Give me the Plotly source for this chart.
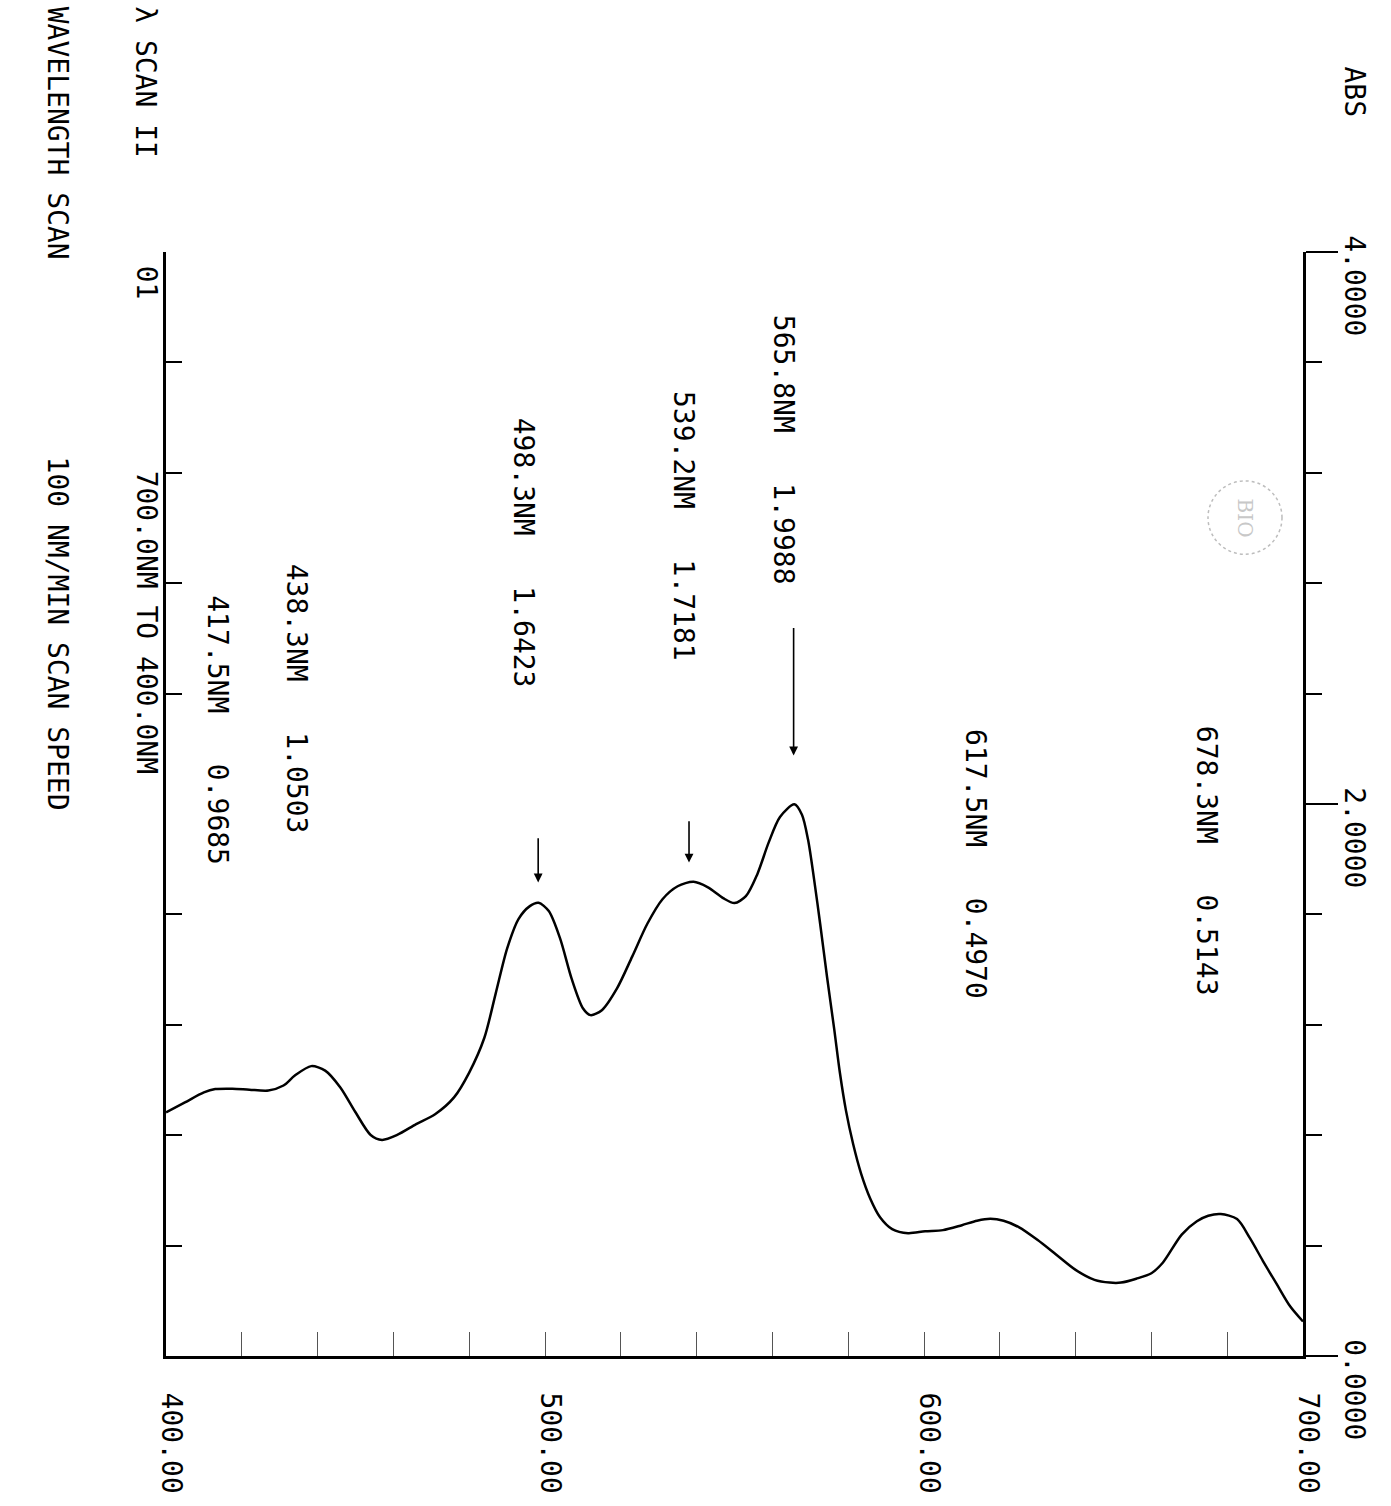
import plotly.graph_objects as go

# Absorbance scan, 700 nm down to 400 nm
wavelength_nm = [400, 405, 410, 413, 417.5, 422, 427, 431, 434, 438.3, 442, 446, 450,
                 454, 457, 461, 466, 471, 476, 480, 484, 487, 490, 493, 496, 498.3,
                 501, 504, 507, 510, 512, 515, 519, 523, 527, 531, 535, 539.2, 543,
                 547, 550, 553, 556, 559, 562, 565.8, 567.8, 569.4, 571.0, 572.6,
                 574.4, 576.3, 577.8, 579.4, 581.3, 583.4, 585.8, 588.4, 591.6, 595.8,
                 600.3, 605, 610, 614, 617.5, 621, 625, 630, 635, 640, 645, 649, 652,
                 656, 660, 663, 668, 672, 675, 678.3, 682.6, 686, 689.4, 693, 696.6, 700]
absorbance = [0.883, 0.919, 0.955, 0.967, 0.9685, 0.965, 0.962, 0.980, 1.016, 1.0503,
              1.034, 0.973, 0.883, 0.801, 0.783, 0.801, 0.840, 0.876, 0.937, 1.027,
              1.153, 1.314, 1.476, 1.583, 1.630, 1.6423, 1.612, 1.512, 1.368, 1.260,
              1.235, 1.253, 1.332, 1.447, 1.566, 1.655, 1.702, 1.7181, 1.698, 1.659,
              1.641, 1.666, 1.745, 1.860, 1.953, 1.9988, 1.961, 1.871, 1.727, 1.566,
              1.375, 1.185, 1.027, 0.890, 0.768, 0.661, 0.571, 0.503, 0.460, 0.445,
              0.452, 0.456, 0.474, 0.490, 0.4970, 0.490, 0.467, 0.420, 0.366, 0.312,
              0.276, 0.266, 0.266, 0.280, 0.300, 0.338, 0.440, 0.488, 0.508, 0.5143,
              0.496, 0.427, 0.345, 0.262, 0.180, 0.125]

# Peaks reported by the instrument
peak_wl = [565.8, 539.2, 498.3, 438.3, 417.5, 617.5, 678.3]
peak_abs = [1.9988, 1.7181, 1.6423, 1.0503, 0.9685, 0.4970, 0.5143]

# Axis ticks
wl_ticks = [400, 500, 600, 700]
wl_tick_text = ["400.00", "500.00", "600.00", "700.00"]
wl_minor = [420, 440, 460, 480, 520, 540, 560, 580, 620, 640, 660, 680]
abs_ticks = [0, 2, 4]
abs_tick_text = ["0.0000", "2.0000", "4.0000"]
abs_minor = [0.4, 0.8, 1.2, 1.6, 2.4, 2.8, 3.2, 3.6]

# Header lines printed beside the plot
header_left = ["λ SCAN II", "01", "700.0NM TO 400.0NM"]
header_right = ["WAVELENGTH SCAN", "100 NM/MIN SCAN SPEED"]

MONO = "DejaVu Sans Mono"
FS = 28
W, H = 1391, 1506
L, R, T, B = 166, 88, 252, 140
PW, PH = W - L - R, H - T - B


def px(xp, yp):
    """page pixel -> paper coordinates"""
    return (xp - L) / PW, (H - B - yp) / PH


fig = go.Figure()
fig.add_trace(go.Scatter(
    x=wavelength_nm, y=absorbance, mode="lines",
    line=dict(color="black", width=2.5, shape="spline", smoothing=0.8),
    hoverinfo="skip", showlegend=False))
# carrier trace for the left frame axis
fig.add_trace(go.Scatter(
    x=wavelength_nm, y=absorbance, mode="lines", yaxis="y2",
    line=dict(color="rgba(0,0,0,0)", width=0),
    hoverinfo="skip", showlegend=False))

annotations = []

# peak labels, rotated like the rest of the print
label_y = [3.282, 3.009, 2.912, 2.381, 2.266, 1.781, 1.795]
label_dx = [-11, -10, -15, -15, -15, -15, -14]
for wl, a, ly, dx in zip(peak_wl, peak_abs, label_y, label_dx):
    annotations.append(dict(
        x=wl, y=ly, xref="x", yref="y", text=f"{wl:.1f}NM   {a:.4f}",
        textangle=90, showarrow=False, xshift=dx,
        xanchor="center", yanchor="middle",
        font=dict(family=MONO, size=FS, color="black")))

# peak arrows (head, tail) in absorbance units
arrow_specs = [(565.6, 2.176, 2.643), (538.0, 1.788, 1.943), (498.2, 1.716, 1.881)]
for xa, yh, yt in arrow_specs:
    annotations.append(dict(
        x=xa, y=yh, ax=xa, ay=yt, xref="x", yref="y", axref="x", ayref="y",
        text="", showarrow=True, arrowhead=2, arrowsize=1.1, arrowwidth=1.6,
        arrowcolor="black"))

# header text on the left
left_pos = [(146, 2, "top"), (146, 283, "middle"), (146, 625, "middle")]
for txt, (xp, yp, ya) in zip(header_left, left_pos):
    xx, yy = px(xp, yp)
    annotations.append(dict(
        x=xx, y=yy, xref="paper", yref="paper", text=txt, textangle=90,
        showarrow=False, xanchor="center", yanchor=ya,
        font=dict(family=MONO, size=FS, color="black")))
right_pos = [(57, 2, "top"), (57, 637, "middle")]
for txt, (xp, yp, ya) in zip(header_right, right_pos):
    xx, yy = px(xp, yp)
    annotations.append(dict(
        x=xx, y=yy, xref="paper", yref="paper", text=txt, textangle=90,
        showarrow=False, xanchor="center", yanchor=ya,
        font=dict(family=MONO, size=FS, color="black")))

# absorbance axis title
xx, yy = px(1355, 90)
annotations.append(dict(
    x=xx, y=yy, xref="paper", yref="paper", text="ABS", textangle=90,
    showarrow=False, xanchor="center", yanchor="middle",
    font=dict(family=MONO, size=FS, color="black")))

# faint lab stamp
sx, sy = px(1245, 520)
annotations.append(dict(
    x=sx, y=sy, xref="paper", yref="paper", text="BIO", textangle=90,
    showarrow=False, xanchor="center", yanchor="middle",
    font=dict(family="DejaVu Serif", size=20, color="#c8c8c8")))
c0x, c0y = px(1208, 557)
c1x, c1y = px(1282, 483)
shapes = [dict(type="circle", xref="paper", yref="paper",
               x0=c0x, y0=c0y, x1=c1x, y1=c1y,
               line=dict(color="#bdbdbd", width=1.5, dash="dot"))]

fig.update_layout(
    width=W, height=H,
    margin=dict(l=L, r=R, t=T, b=B, pad=0),
    paper_bgcolor="white", plot_bgcolor="white",
    font=dict(family=MONO, size=FS, color="black"),
    annotations=annotations, shapes=shapes,
    xaxis=dict(
        range=[400, 700], showline=True, linecolor="black", linewidth=3,
        showgrid=False, zeroline=False,
        tickmode="array", tickvals=wl_ticks, ticktext=wl_tick_text,
        tickangle=90, ticks="inside", ticklen=24, tickwidth=1, tickcolor="#555",
        minor=dict(tickvals=wl_minor, ticks="inside", ticklen=24, tickwidth=1,
                   tickcolor="#555"),
        ticklabelstandoff=28, ticklabelshift=5,
        tickfont=dict(family=MONO, size=FS, color="black")),
    yaxis=dict(
        range=[0, 4], side="right", anchor="x", showline=True,
        linecolor="black", linewidth=3, showgrid=False, zeroline=False,
        tickmode="array", tickvals=abs_ticks, ticktext=abs_tick_text,
        tickangle=90, ticks="outside", ticklen=32, tickwidth=2, tickcolor="black",
        minor=dict(tickvals=abs_minor, ticks="outside", ticklen=16, tickwidth=2,
                   tickcolor="black"),
        ticklabelshift=38, ticklabelstandoff=-4,
        tickfont=dict(family=MONO, size=FS, color="black")),
    yaxis2=dict(
        range=[0, 4], overlaying="y", side="left", anchor="x", showline=True,
        linecolor="black", linewidth=3, showgrid=False, zeroline=False,
        tickmode="array", tickvals=[4], ticks="inside", ticklen=35, tickwidth=2,
        tickcolor="black", showticklabels=False,
        minor=dict(tickvals=abs_minor, ticks="inside", ticklen=16, tickwidth=2,
                   tickcolor="black")),
)

fig.write_html("out.html")
